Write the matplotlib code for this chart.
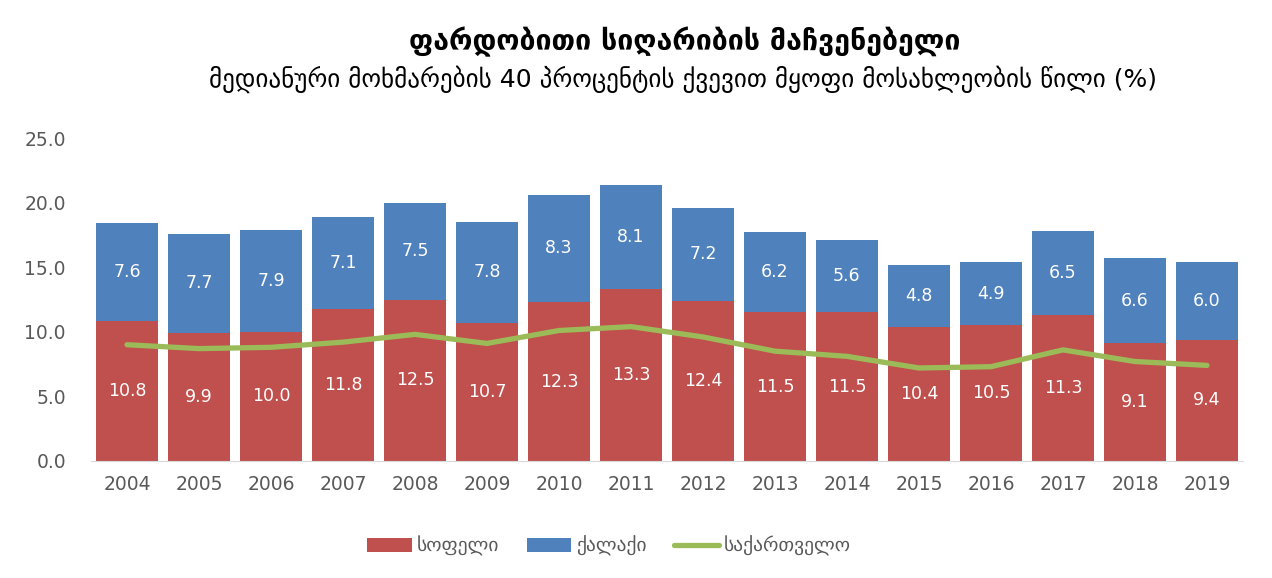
import matplotlib
matplotlib.use("Agg")
import matplotlib.pyplot as plt
import numpy as np

years = ["2004","2005","2006","2007","2008","2009","2010","2011","2012","2013","2014","2015","2016","2017","2018","2019"]
rural = [10.8, 9.9, 10.0, 11.8, 12.5, 10.7, 12.3, 13.3, 12.4, 11.5, 11.5, 10.4, 10.5, 11.3, 9.1, 9.4]
urban = [7.6, 7.7, 7.9, 7.1, 7.5, 7.8, 8.3, 8.1, 7.2, 6.2, 5.6, 4.8, 4.9, 6.5, 6.6, 6.0]
georgia = [9.0, 8.7, 8.8, 9.2, 9.8, 9.1, 10.1, 10.4, 9.6, 8.5, 8.1, 7.2, 7.3, 8.6, 7.7, 7.4]

title = "ფარდობითი სიღარიბის მაჩვენებელი"
subtitle = "მედიანური მოხმარების 40 პროცენტის ქვევით მყოფი მოსახლეობის წილი (%)"
labels = ["სოფელი", "ქალაქი", "საქართველო"]

plt.rcParams['font.family'] = ['DejaVu Sans']
fig = plt.figure(figsize=(12.72, 5.78), dpi=100)
ax = fig.add_axes([91/1272, 1-461/578, (1243-91)/1272, (461-138)/578])

x = np.arange(len(years))
red = "#C0504D"; blue = "#4F81BD"; green = "#9BBB59"
b1 = ax.bar(x, rural, width=0.86, color=red, label=labels[0])
b2 = ax.bar(x, urban, width=0.86, bottom=rural, color=blue, label=labels[1])
l, = ax.plot(x, georgia, color=green, lw=3.8, label=labels[2], solid_capstyle='round')

for i in range(len(years)):
    ax.text(x[i], rural[i]/2, f"{rural[i]:.1f}", ha='center', va='center', color='white', fontsize=12.5)
    ax.text(x[i], rural[i] + urban[i]/2, f"{urban[i]:.1f}", ha='center', va='center', color='white', fontsize=12.5)

ax.set_xlim(-0.5, len(years)-0.5)
ax.set_ylim(0, 25)
ax.set_yticks(np.arange(0, 25.1, 5))
ax.set_yticklabels([f"{v:.1f}" for v in np.arange(0, 25.1, 5)])
ax.set_xticks(x)
ax.set_xticklabels(years)
ax.tick_params(axis='both', colors='#595959', labelsize=13.5, length=0)
ax.tick_params(axis='x', pad=10)
ax.tick_params(axis='y', pad=18)
for s in ['top', 'right', 'left']:
    ax.spines[s].set_visible(False)
ax.spines['bottom'].set_color('#D9D9D9')

fig.text(685/1272, 1-42/578, title, ha='center', va='center', fontsize=20.5, fontweight='bold', color='black')
fig.text(683/1272, 1-79/578, subtitle, ha='center', va='center', fontsize=18, color='black')

fig.legend(handles=[b1, b2, l], labels=labels, loc='center', bbox_to_anchor=(609/1272, 1-546/578),
           ncol=3, frameon=False, fontsize=14, labelcolor='#595959', handlelength=2.3,
           handletextpad=0.25, columnspacing=1.4, handleheight=0.75)

fig.savefig("out.png", dpi=100)
